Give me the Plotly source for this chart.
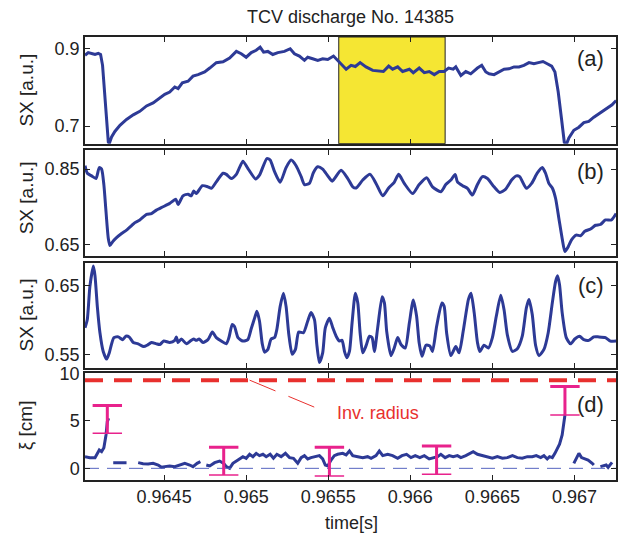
import plotly.graph_objects as go

# ---- time base limits and ticks -------------------------------------------
T_MIN, T_MAX = 0.964018, 0.967253
X_TICKS = [0.9645, 0.965, 0.9655, 0.966, 0.9665, 0.967]
X_TICKTEXT = ["0.9645", "0.965", "0.9655", "0.966", "0.9665", "0.967"]

# ---- (a) SX channel 1 ------------------------------------------------------
ta = [0.964018, 0.964038, 0.964064, 0.964079, 0.964099, 0.964113, 0.964125,
      0.964139, 0.964150, 0.964160, 0.964166, 0.964180, 0.964200, 0.964231,
      0.964271, 0.964312, 0.964352, 0.964393, 0.964433, 0.964474, 0.964504,
      0.964534, 0.964565, 0.964585, 0.964611, 0.964646, 0.964676, 0.964707,
      0.964747, 0.964778, 0.964818, 0.964859, 0.964899, 0.964940, 0.964970,
      0.965000, 0.965031, 0.965061, 0.965085, 0.965106, 0.965132, 0.965162,
      0.965193, 0.965233, 0.965268, 0.965294, 0.965324, 0.965355, 0.965375,
      0.965405, 0.965436, 0.965466, 0.965497, 0.965532, 0.965568, 0.965609,
      0.965639, 0.965665, 0.965694, 0.965730, 0.965771, 0.965811, 0.965836,
      0.965868, 0.965892, 0.965923, 0.965953, 0.965994, 0.966018, 0.966054,
      0.966085, 0.966115, 0.966146, 0.966176, 0.966206, 0.966233, 0.966261,
      0.966277, 0.966308, 0.966338, 0.966368, 0.966409, 0.966435, 0.966460,
      0.966480, 0.966510, 0.966541, 0.966571, 0.966601, 0.966632, 0.966662,
      0.966692, 0.966723, 0.966753, 0.966780, 0.966808, 0.966834, 0.966861,
      0.966881, 0.966901, 0.966921, 0.966938, 0.966950, 0.966966, 0.966996,
      0.967027, 0.967057, 0.967087, 0.967118, 0.967148, 0.967179, 0.967209,
      0.967229, 0.967254]
sx_a = [0.883, 0.890, 0.887, 0.885, 0.888, 0.885, 0.857,
        0.771, 0.693, 0.659, 0.655, 0.672, 0.686, 0.702,
        0.717, 0.729, 0.738, 0.752, 0.760, 0.772, 0.782,
        0.788, 0.801, 0.797, 0.812, 0.816, 0.829, 0.833,
        0.840, 0.850, 0.864, 0.866, 0.876, 0.893, 0.887,
        0.878, 0.890, 0.896, 0.904, 0.891, 0.893, 0.885,
        0.890, 0.893, 0.900, 0.887, 0.881, 0.870, 0.878,
        0.874, 0.870, 0.874, 0.872, 0.881, 0.866, 0.847,
        0.857, 0.854, 0.864, 0.853, 0.844, 0.841, 0.841,
        0.855, 0.847, 0.853, 0.841, 0.847, 0.838, 0.850,
        0.838, 0.841, 0.833, 0.841, 0.841, 0.850, 0.847,
        0.853, 0.831, 0.841, 0.835, 0.850, 0.857, 0.840,
        0.835, 0.833, 0.841, 0.847, 0.848, 0.853, 0.853,
        0.857, 0.864, 0.861, 0.864, 0.867, 0.861, 0.855,
        0.840, 0.788, 0.719, 0.658, 0.652, 0.669, 0.689,
        0.697, 0.709, 0.712, 0.723, 0.732, 0.740, 0.749,
        0.755, 0.766]

# ---- (b) SX channel 2 ------------------------------------------------------
tb = [0.964018, 0.964032, 0.964058, 0.964085, 0.964105, 0.964119, 0.964133,
      0.964146, 0.964160, 0.964170, 0.964186, 0.964210, 0.964241, 0.964271,
      0.964302, 0.964322, 0.964352, 0.964393, 0.964423, 0.964453, 0.964494,
      0.964534, 0.964571, 0.964585, 0.964615, 0.964646, 0.964666, 0.964680,
      0.964696, 0.964733, 0.964767, 0.964788, 0.964818, 0.964859, 0.964879,
      0.964909, 0.964940, 0.964980, 0.965010, 0.965057, 0.965081, 0.965126,
      0.965146, 0.965173, 0.965207, 0.965243, 0.965274, 0.965304, 0.965335,
      0.965355, 0.965385, 0.965410, 0.965436, 0.965466, 0.965497, 0.965524,
      0.965578, 0.965619, 0.965649, 0.965670, 0.965710, 0.965755, 0.965791,
      0.965832, 0.965868, 0.965902, 0.965929, 0.965963, 0.966014, 0.966054,
      0.966099, 0.966135, 0.966186, 0.966216, 0.966247, 0.966273, 0.966287,
      0.966318, 0.966348, 0.966378, 0.966409, 0.966439, 0.966470, 0.966510,
      0.966545, 0.966581, 0.966617, 0.966646, 0.966666, 0.966707, 0.966739,
      0.966773, 0.966804, 0.966824, 0.966844, 0.966865, 0.966885, 0.966905,
      0.966925, 0.966942, 0.966962, 0.966982, 0.967010, 0.967037, 0.967063,
      0.967098, 0.967128, 0.967158, 0.967189, 0.967225, 0.967254]
sx_b = [0.859, 0.839, 0.832, 0.825, 0.854, 0.850, 0.808,
        0.737, 0.666, 0.647, 0.657, 0.668, 0.679, 0.688,
        0.700, 0.708, 0.715, 0.730, 0.732, 0.741, 0.750,
        0.759, 0.770, 0.756, 0.779, 0.783, 0.779, 0.792,
        0.785, 0.806, 0.803, 0.799, 0.816, 0.839, 0.836,
        0.825, 0.836, 0.871, 0.852, 0.824, 0.834, 0.878,
        0.874, 0.843, 0.815, 0.854, 0.874, 0.859, 0.830,
        0.809, 0.812, 0.841, 0.856, 0.850, 0.832, 0.818,
        0.847, 0.825, 0.803, 0.800, 0.821, 0.836, 0.812,
        0.779, 0.800, 0.815, 0.836, 0.812, 0.785, 0.809,
        0.827, 0.803, 0.790, 0.809, 0.821, 0.836, 0.816,
        0.806, 0.799, 0.781, 0.809, 0.830, 0.825, 0.803,
        0.788, 0.797, 0.821, 0.832, 0.830, 0.799, 0.812,
        0.839, 0.854, 0.839, 0.812, 0.800, 0.772, 0.719,
        0.666, 0.631, 0.644, 0.662, 0.675, 0.673, 0.685,
        0.691, 0.701, 0.703, 0.715, 0.715, 0.732]

# ---- (c) SX channel 3 ------------------------------------------------------
tc = [0.964018, 0.964032, 0.964048, 0.964069, 0.964079, 0.964093, 0.964109,
      0.964129, 0.964150, 0.964166, 0.964180, 0.964194, 0.964221, 0.964247,
      0.964267, 0.964287, 0.964312, 0.964342, 0.964376, 0.964397, 0.964423,
      0.964453, 0.964474, 0.964498, 0.964534, 0.964565, 0.964575, 0.964585,
      0.964605, 0.964636, 0.964660, 0.964680, 0.964696, 0.964713, 0.964737,
      0.964767, 0.964794, 0.964818, 0.964848, 0.964879, 0.964895, 0.964915,
      0.964929, 0.964950, 0.964980, 0.965010, 0.965031, 0.965051, 0.965065,
      0.965081, 0.965098, 0.965112, 0.965132, 0.965152, 0.965173, 0.965187,
      0.965207, 0.965227, 0.965243, 0.965260, 0.965280, 0.965300, 0.965320,
      0.965349, 0.965375, 0.965395, 0.965416, 0.965430, 0.965446, 0.965466,
      0.965482, 0.965507, 0.965528, 0.965548, 0.965568, 0.965584, 0.965599,
      0.965613, 0.965629, 0.965645, 0.965665, 0.965680, 0.965694, 0.965710,
      0.965730, 0.965751, 0.965767, 0.965781, 0.965801, 0.965828, 0.965842,
      0.965856, 0.965882, 0.965902, 0.965923, 0.965943, 0.965969, 0.965994,
      0.966018, 0.966038, 0.966054, 0.966071, 0.966095, 0.966119, 0.966135,
      0.966160, 0.966192, 0.966206, 0.966221, 0.966247, 0.966277, 0.966297,
      0.966322, 0.966354, 0.966370, 0.966389, 0.966409, 0.966423, 0.966449,
      0.966476, 0.966500, 0.966524, 0.966551, 0.966571, 0.966591, 0.966622,
      0.966652, 0.966682, 0.966707, 0.966723, 0.966743, 0.966763, 0.966784,
      0.966814, 0.966840, 0.966865, 0.966885, 0.966897, 0.966909, 0.966925,
      0.966950, 0.966976, 0.967002, 0.967031, 0.967057, 0.967087, 0.967118,
      0.967148, 0.967189, 0.967219, 0.967254]
sx_c = [0.589, 0.601, 0.649, 0.678, 0.664, 0.620, 0.582,
        0.555, 0.544, 0.553, 0.566, 0.575, 0.576, 0.572,
        0.577, 0.576, 0.568, 0.566, 0.562, 0.564, 0.568,
        0.566, 0.565, 0.570, 0.568, 0.571, 0.576, 0.568,
        0.573, 0.566, 0.570, 0.573, 0.571, 0.573, 0.568,
        0.572, 0.583, 0.575, 0.570, 0.566, 0.575, 0.594,
        0.591, 0.575, 0.570, 0.572, 0.588, 0.603, 0.613,
        0.599, 0.566, 0.554, 0.558, 0.573, 0.575, 0.587,
        0.620, 0.639, 0.620, 0.579, 0.551, 0.558, 0.583,
        0.582, 0.599, 0.611, 0.601, 0.566, 0.539, 0.553,
        0.589, 0.603, 0.589, 0.577, 0.570, 0.571, 0.555,
        0.546, 0.555, 0.596, 0.639, 0.625, 0.582, 0.553,
        0.563, 0.577, 0.575, 0.555, 0.589, 0.634, 0.625,
        0.584, 0.549, 0.560, 0.575, 0.565, 0.560, 0.596,
        0.629, 0.606, 0.567, 0.548, 0.564, 0.563, 0.555,
        0.591, 0.625, 0.620, 0.582, 0.549, 0.562, 0.553,
        0.584, 0.630, 0.639, 0.611, 0.568, 0.555, 0.564,
        0.560, 0.575, 0.606, 0.636, 0.615, 0.579, 0.555,
        0.559, 0.577, 0.618, 0.630, 0.608, 0.564, 0.549,
        0.558, 0.582, 0.625, 0.656, 0.664, 0.651, 0.611,
        0.575, 0.566, 0.573, 0.577, 0.572, 0.571, 0.576,
        0.576, 0.575, 0.570, 0.570]

# ---- (d) displacement xi; None marks gaps in the reconstruction ------------
td = [0.964018, 0.964048, 0.964079, 0.964093, 0.964105, 0.964119, 0.964133,
      0.964146, 0.964154, 0.964162, None,
      0.964190, 0.964271, None,
      0.964342, 0.964372, 0.964403, 0.964433, 0.964464, 0.964484, 0.964504,
      0.964534, 0.964565, 0.964595, 0.964626, 0.964656, 0.964676, 0.964701,
      0.964721, None,
      0.964757, 0.964778, 0.964808, 0.964838, 0.964863, 0.964879, 0.964899,
      0.964919, 0.964950, 0.964980, 0.965000, 0.965021, 0.965041, 0.965061,
      0.965081, 0.965102, 0.965122, 0.965146, 0.965166, 0.965187, 0.965213,
      0.965239, 0.965264, 0.965288, 0.965314, 0.965335, 0.965355, 0.965375,
      0.965395, 0.965422, 0.965446, 0.965466, 0.965482, 0.965497, 0.965517,
      0.965537, 0.965557, 0.965588, 0.965609, 0.965629, 0.965649, 0.965680,
      0.965710, 0.965740, 0.965761, 0.965791, 0.965811, 0.965832, 0.965862,
      0.965892, 0.965923, 0.965949, 0.965977, 0.966004, 0.966030, 0.966058,
      0.966085, 0.966115, 0.966146, 0.966166, 0.966186, 0.966212, 0.966237,
      0.966261, 0.966287, 0.966308, 0.966338, 0.966368, 0.966383, 0.966409,
      0.966439, 0.966470, 0.966500, 0.966530, 0.966561, 0.966591, 0.966622,
      0.966652, 0.966682, 0.966713, 0.966743, 0.966767, 0.966794, 0.966814,
      0.966834, 0.966848, 0.966865, 0.966881, 0.966895, 0.966909, 0.966925,
      0.966936, 0.966942, None,
      0.966996, 0.967010, 0.967027, 0.967043, 0.967063, 0.967083, 0.967108,
      0.967118, None,
      0.967158, 0.967179, 0.967193, 0.967205, 0.967219, 0.967229]
xi_d = [1.23, 1.13, 1.13, 1.58, 1.94, 1.76, 2.18,
        3.52, 4.93, 5.28, None,
        0.60, 0.60, None,
        0.60, 0.49, 0.46, 0.53, 0.35, 0.11, 0.18,
        0.25, 0.18, 0.35, 0.53, 0.35, 0.18, 0.53,
        0.70, None,
        0.35, 0.25, 0.60, 0.77, 0.53, 0.18, 0.00,
        0.53, 0.88, 1.23, 1.06, 1.48, 1.23, 1.58,
        1.34, 1.48, 1.23, 1.48, 1.06, 1.48, 1.23,
        1.58, 1.13, 1.06, 0.53, 1.13, 1.34, 0.99,
        1.13, 1.23, 1.34, 0.99, 0.35, 0.25, 0.88,
        1.34, 1.48, 1.58, 1.41, 1.83, 1.34, 1.23,
        1.13, 1.23, 1.06, 1.34, 1.83, 1.34, 1.48,
        1.34, 1.06, 1.34, 1.48, 1.13, 1.34, 1.13,
        1.34, 0.99, 1.13, 1.23, 1.48, 1.13, 1.34,
        1.23, 1.34, 1.13, 1.34, 1.58, 1.76, 1.48,
        1.34, 1.23, 1.06, 1.23, 1.06, 1.13, 1.34,
        1.13, 1.06, 1.23, 1.23, 1.34, 1.13, 1.34,
        0.99, 1.23, 1.13, 1.58, 2.11, 2.54, 3.52,
        4.93, 5.63, None,
        0.53, 1.06, 1.58, 1.13, 0.99, 0.88, 0.53,
        0.35, None,
        0.18, 0.28, 0.35, 0.11, 0.42, 0.63]

# error bars on xi (lower / upper limits)
err_t = [0.964154, 0.964863, 0.965507, 0.966160, 0.966942]
err_lo = [3.70, -0.70, -0.81, -0.63, 5.63]
err_hi = [6.62, 2.22, 2.22, 2.36, 8.63]

INV_RADIUS = 9.3          # inversion radius [cm]
SHADE_T = [0.965564, 0.966212]   # highlighted window in (a)

Y_RANGES = [[0.6542, 0.9303], [0.619, 0.9004], [0.5313, 0.6827], [-1.23, 10.03]]
Y_TICKS = [[0.7, 0.9], [0.65, 0.85], [0.55, 0.65], [0, 5, 10]]
Y_TICKTEXT = [["0.7", "0.9"], ["0.65", "0.85"], ["0.55", "0.65"], ["0", "5", "10"]]
DOMAINS = [[0.759, 1.0], [0.5053, 0.7447], [0.2530, 0.4902], [0.0, 0.2410]]
PANEL_TAGS = ["(a)", "(b)", "(c)", "(d)"]
TAG_Y = [0.951, 0.6973, 0.4391, 0.171]
YTITLE = ["SX [a.u.]", "SX [a.u.]", "SX [a.u.]", "ξ [cm]"]
YTITLE_Y = [0.8795, 0.6363, 0.372, 0.1242]

FONT = "Liberation Sans, Arial, Helvetica, sans-serif"
TXT = "#222222"
BLUE = "#2D3A96"
MAGENTA = "#E8228C"
RED = "#E8302E"

fig = go.Figure()

series = [(ta, sx_a), (tb, sx_b), (tc, sx_c), (td, xi_d)]
for i, (t, v) in enumerate(series):
    sfx = "" if i == 0 else str(i + 1)
    shape = "spline" if i in (1, 2) else "linear"
    fig.add_trace(go.Scatter(x=t, y=v, mode="lines", xaxis="x" + sfx, yaxis="y" + sfx,
                             line=dict(color=BLUE, width=3, shape=shape, smoothing=0.6),
                             connectgaps=False, showlegend=False, hoverinfo="skip"))

# reference lines in (d)
fig.add_trace(go.Scatter(x=[T_MIN, T_MAX], y=[0, 0], mode="lines", xaxis="x4", yaxis="y4",
                         line=dict(color="#5664C0", width=1, dash="14px,8px"),
                         showlegend=False, hoverinfo="skip"))
fig.add_trace(go.Scatter(x=[T_MIN, T_MAX], y=[INV_RADIUS, INV_RADIUS], mode="lines",
                         xaxis="x4", yaxis="y4",
                         line=dict(color=RED, width=4, dash="18px,11px"),
                         showlegend=False, hoverinfo="skip"))

# error bars: stems, heavy upper caps, light lower caps
stem_x, stem_y = [], []
for t, lo, hi in zip(err_t, err_lo, err_hi):
    stem_x += [t, t, None]
    stem_y += [lo, hi, None]
fig.add_trace(go.Scatter(x=stem_x, y=stem_y, mode="lines", xaxis="x4", yaxis="y4",
                         line=dict(color=MAGENTA, width=3), showlegend=False,
                         hoverinfo="skip"))
fig.add_trace(go.Scatter(x=err_t, y=err_hi, mode="markers", xaxis="x4", yaxis="y4",
                         marker=dict(symbol="line-ew", size=21,
                                     line=dict(color=MAGENTA, width=3)),
                         showlegend=False, hoverinfo="skip"))
fig.add_trace(go.Scatter(x=err_t, y=err_lo, mode="markers", xaxis="x4", yaxis="y4",
                         marker=dict(symbol="line-ew", size=21,
                                     line=dict(color=MAGENTA, width=1.5)),
                         showlegend=False, hoverinfo="skip"))

layout = dict(
    width=623, height=533,
    margin=dict(l=85, r=5, t=37, b=53),
    paper_bgcolor="white", plot_bgcolor="white",
    font=dict(family=FONT, size=18, color=TXT),
    showlegend=False,
)
for i in range(4):
    sfx = "" if i == 0 else str(i + 1)
    layout["xaxis" + sfx] = dict(
        range=[T_MIN, T_MAX], domain=[0, 1], anchor="y" + sfx,
        tickmode="array", tickvals=X_TICKS, ticktext=X_TICKTEXT,
        showticklabels=(i == 3), ticks="inside", ticklen=5, tickwidth=1,
        tickcolor="#222222", showline=True, mirror="ticks", linecolor="#222222",
        linewidth=1.5, showgrid=False, zeroline=False,
        tickfont=dict(size=18, family=FONT, color=TXT),
    )
    layout["yaxis" + sfx] = dict(
        range=Y_RANGES[i], domain=DOMAINS[i], anchor="x" + sfx,
        tickmode="array", tickvals=Y_TICKS[i], ticktext=Y_TICKTEXT[i],
        ticks="inside", ticklen=5, tickwidth=1, tickcolor="#222222",
        showline=True, mirror="ticks", linecolor="#222222", linewidth=1.5,
        showgrid=False, zeroline=False,
        tickfont=dict(size=18, family=FONT, color=TXT),
    )

annotations = [
    dict(text="TCV discharge No. 14385", xref="paper", yref="paper", x=0.5, y=1.0451,
         xanchor="center", yanchor="middle", showarrow=False,
         font=dict(size=18, family=FONT, color=TXT)),
    dict(text="time[s]", xref="paper", yref="paper", x=0.501, y=-0.097,
         xanchor="center", yanchor="middle", showarrow=False,
         font=dict(size=18, family=FONT, color=TXT)),
    dict(text="Inv. radius", xref="x4", yref="y4", x=0.9658, y=5.8,
         xanchor="center", yanchor="middle", showarrow=False,
         font=dict(size=18, family=FONT, color=RED)),
]
for i in range(4):
    annotations.append(dict(text=PANEL_TAGS[i], xref="paper", yref="paper",
                            x=0.9525, y=TAG_Y[i], xanchor="center", yanchor="middle",
                            showarrow=False, font=dict(size=22, family=FONT, color=TXT)))
    annotations.append(dict(text=YTITLE[i], xref="paper", yref="paper",
                            x=-0.1107, y=YTITLE_Y[i], xanchor="center", yanchor="middle",
                            textangle=-90, showarrow=False,
                            font=dict(size=19, family=FONT, color=TXT)))
layout["annotations"] = annotations

layout["shapes"] = [
    dict(type="rect", xref="x", yref="y domain", x0=SHADE_T[0], x1=SHADE_T[1],
         y0=0, y1=1, fillcolor="#F5E633", line=dict(color="#222222", width=1),
         layer="below"),
    dict(type="line", xref="x4", yref="y4", x0=0.965021, y0=INV_RADIUS,
         x1=0.965456, y1=6.16, line=dict(color=RED, width=1, dash="28px,14px")),
]

fig.update_layout(layout)
fig.write_html("out.html")
